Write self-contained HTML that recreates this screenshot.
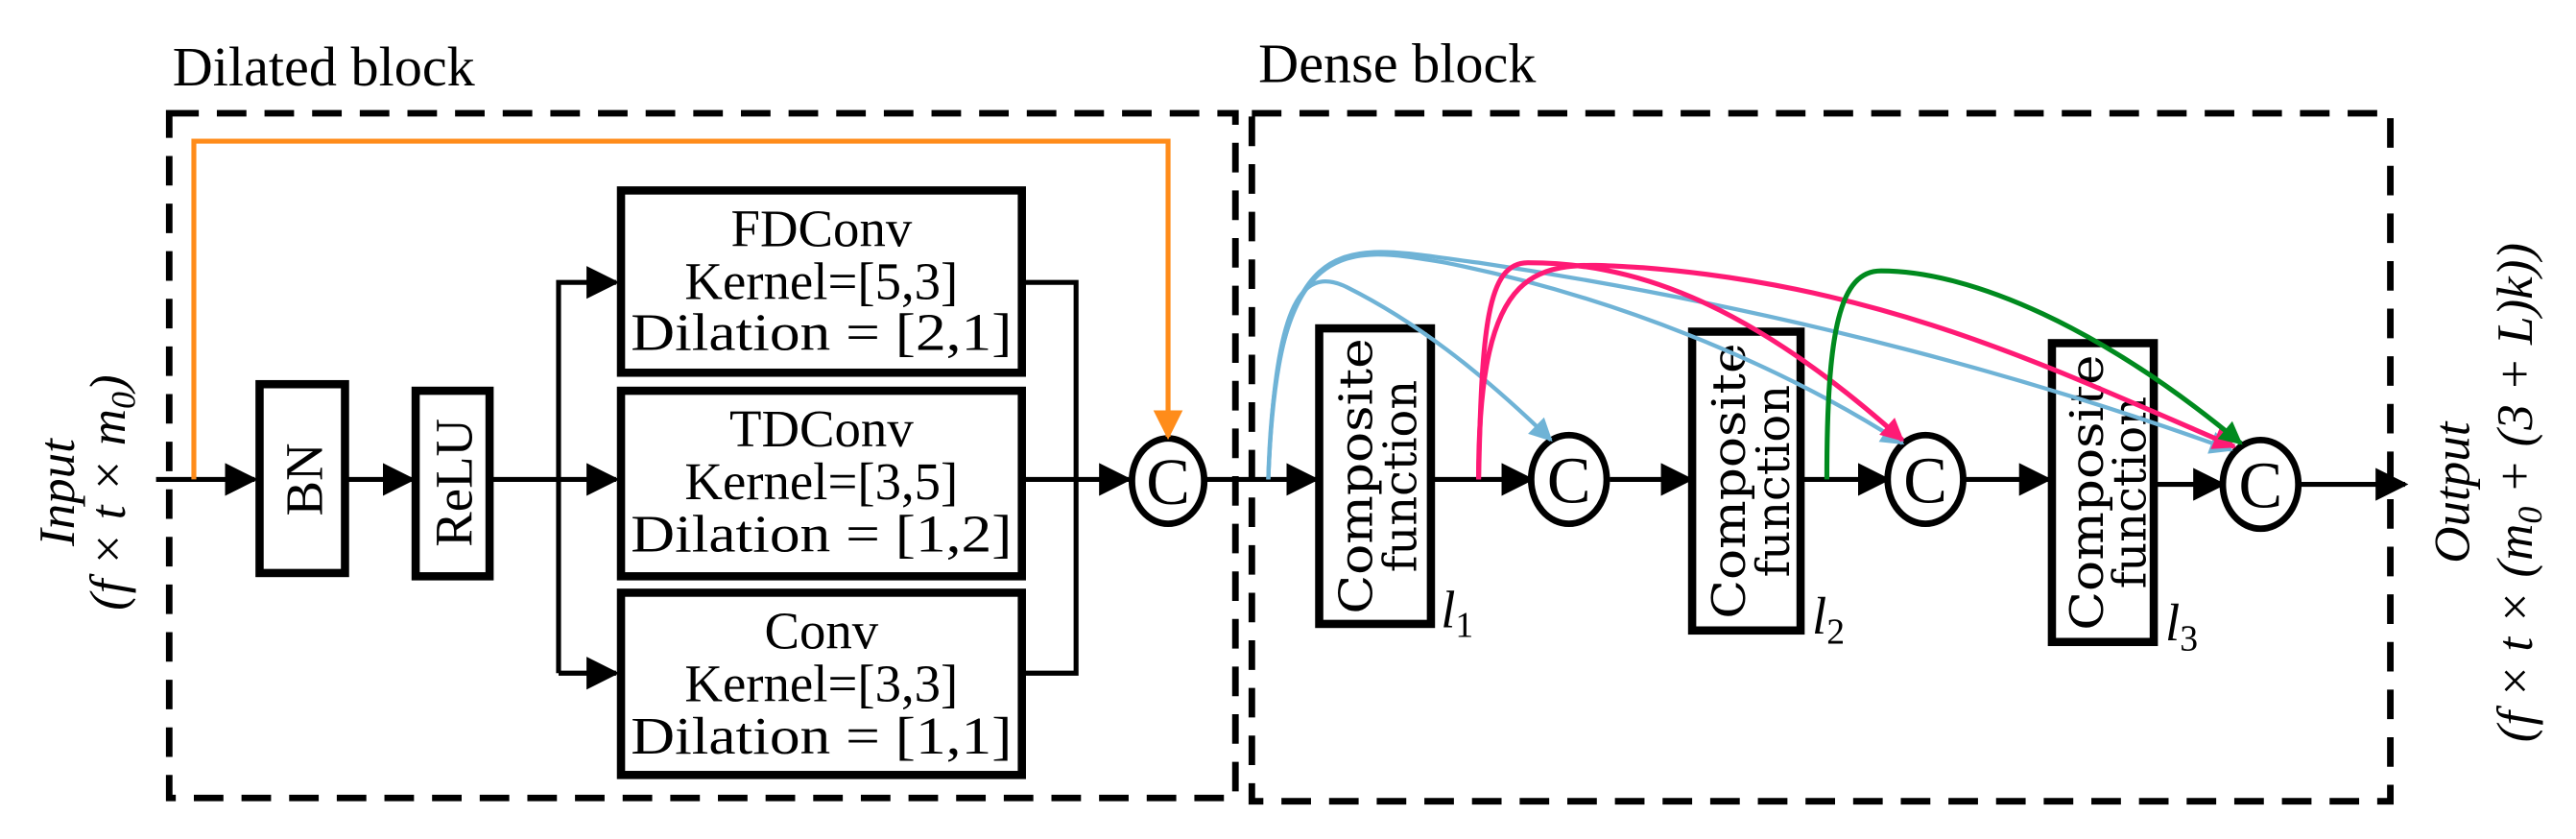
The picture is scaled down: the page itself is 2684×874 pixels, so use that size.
<!DOCTYPE html>
<html><head><meta charset="utf-8"><style>
html,body{margin:0;padding:0;background:#fff;}
svg{display:block;}
</style></head><body>
<svg width="2684" height="874" viewBox="0 0 1568 511" preserveAspectRatio="none" xmlns="http://www.w3.org/2000/svg">
<defs>
<marker id="ab" viewBox="0 0 10 10" refX="9" refY="5" markerWidth="20" markerHeight="20" markerUnits="userSpaceOnUse" orient="auto"><path d="M0,0 L10,5 L0,10 z" fill="#000"/></marker>
<marker id="ao" viewBox="0 0 10 10" refX="9" refY="5" markerWidth="18" markerHeight="18" markerUnits="userSpaceOnUse" orient="auto"><path d="M0,0 L10,5 L0,10 z" fill="#ff8c1a"/></marker>
<marker id="abl" viewBox="0 0 10 10" refX="9" refY="5" markerWidth="18" markerHeight="14" markerUnits="userSpaceOnUse" orient="auto"><path d="M0,0 L10,5 L0,10 z" fill="#6fb3d6"/></marker>
<marker id="ap" viewBox="0 0 10 10" refX="9" refY="5" markerWidth="18" markerHeight="14" markerUnits="userSpaceOnUse" orient="auto"><path d="M0,0 L10,5 L0,10 z" fill="#ff1a75"/></marker>
<marker id="ag" viewBox="0 0 10 10" refX="9" refY="5" markerWidth="18" markerHeight="14" markerUnits="userSpaceOnUse" orient="auto"><path d="M0,0 L10,5 L0,10 z" fill="#008a1e"/></marker>
</defs>
<g font-family="Liberation Serif, serif" fill="#000">
<text x="105" y="52" font-size="34">Dilated block</text>
<text x="766" y="50" font-size="34">Dense block</text>
</g>
<rect x="103" y="69" width="649" height="417" fill="none" stroke="#000" stroke-width="4" stroke-dasharray="18,11"/>
<rect x="762" y="69" width="693" height="419" fill="none" stroke="#000" stroke-width="4" stroke-dasharray="18,11"/>
<g font-family="Liberation Serif, serif" font-style="italic" font-size="31">
<text transform="translate(45,300) rotate(-90)" text-anchor="middle">Input</text>
<text transform="translate(76,300) rotate(-90)" text-anchor="middle">(f × t × m<tspan font-size="21" dy="6">0</tspan><tspan dy="-6">)</tspan></text>
<text transform="translate(1503,300) rotate(-90)" text-anchor="middle">Output</text>
<text transform="translate(1541,300) rotate(-90)" text-anchor="middle">(f × t × (m<tspan font-size="21" dy="6">0</tspan><tspan dy="-6"> + (3 + L)k))</tspan></text>
</g>
<g stroke="#000" stroke-width="3" fill="none">
<line x1="95" y1="292" x2="155" y2="292" marker-end="url(#ab)"/>
<line x1="210" y1="292" x2="251" y2="292" marker-end="url(#ab)"/>
<line x1="298" y1="292" x2="375" y2="292" marker-end="url(#ab)"/>
<polyline points="340,410 340,172 375,172" marker-end="url(#ab)"/>
<polyline points="340,410 375,410" marker-end="url(#ab)"/>
<polyline points="622,172 655,172 655,410 622,410"/>
<line x1="622" y1="292" x2="687" y2="292" marker-end="url(#ab)"/>
<line x1="734" y1="292" x2="801" y2="292" marker-end="url(#ab)"/>
<line x1="873" y1="292" x2="932" y2="292" marker-end="url(#ab)"/>
<line x1="980" y1="292" x2="1029" y2="292" marker-end="url(#ab)"/>
<line x1="1095" y1="292" x2="1149" y2="292" marker-end="url(#ab)"/>
<line x1="1196" y1="292" x2="1247" y2="292" marker-end="url(#ab)"/>
<line x1="1310" y1="295" x2="1353" y2="295" marker-end="url(#ab)"/>
<line x1="1400" y1="295" x2="1464" y2="295" marker-end="url(#ab)"/>
</g>
<g stroke="#000" stroke-width="5" fill="#fff">
<rect x="158" y="234" width="52" height="115"/>
<rect x="253" y="238" width="45" height="113"/>
<rect x="378" y="116" width="244" height="111"/>
<rect x="378" y="238" width="244" height="113"/>
<rect x="378" y="361" width="244" height="111"/>
<rect x="803" y="200" width="68" height="180"/>
<rect x="1030" y="202" width="66" height="182"/>
<rect x="1249" y="209" width="62" height="182"/>
</g>
<g font-family="Liberation Serif, serif" font-size="32" text-anchor="middle" fill="#000">
<text transform="translate(196,292) rotate(-90)" text-anchor="middle">BN</text>
<text transform="translate(287,294) rotate(-90)" text-anchor="middle">ReLU</text>
<text x="500" y="150">FDConv</text><text x="500" y="182">Kernel=[5,3]</text><text x="500" y="213" textLength="232" lengthAdjust="spacingAndGlyphs">Dilation = [2,1]</text>
<text x="500" y="272">TDConv</text><text x="500" y="304">Kernel=[3,5]</text><text x="500" y="336" textLength="232" lengthAdjust="spacingAndGlyphs">Dilation = [1,2]</text>
<text x="500" y="395">Conv</text><text x="500" y="427">Kernel=[3,3]</text><text x="500" y="459" textLength="232" lengthAdjust="spacingAndGlyphs">Dilation = [1,1]</text>
<g font-family="DejaVu Serif, serif" font-size="28">
<text transform="translate(835,290) rotate(-90)" textLength="168" lengthAdjust="spacingAndGlyphs">Composite</text><text transform="translate(862,290) rotate(-90)">function</text>
<text transform="translate(1062,293) rotate(-90)" textLength="168" lengthAdjust="spacingAndGlyphs">Composite</text><text transform="translate(1089,293) rotate(-90)">function</text>
<text transform="translate(1280,300) rotate(-90)" textLength="168" lengthAdjust="spacingAndGlyphs">Composite</text><text transform="translate(1306,300) rotate(-90)">function</text>
</g>
</g>
<g font-family="Liberation Serif, serif" font-style="italic" font-size="32" fill="#000">
<text x="877" y="382">l<tspan font-style="normal" font-size="22" dy="6">1</tspan></text>
<text x="1103" y="386">l<tspan font-style="normal" font-size="22" dy="6">2</tspan></text>
<text x="1318" y="390">l<tspan font-style="normal" font-size="22" dy="6">3</tspan></text>
</g>
<g stroke="#000" stroke-width="4" fill="#fff">
<ellipse cx="711" cy="293" rx="22" ry="26"/>
<ellipse cx="955" cy="292" rx="23" ry="27"/>
<ellipse cx="1172" cy="292" rx="23" ry="27"/>
<ellipse cx="1376" cy="295" rx="23" ry="27"/>
</g>
<g font-family="Liberation Serif, serif" font-size="40" text-anchor="middle" fill="#000">
<text x="711" y="307">C</text><text x="955" y="306">C</text><text x="1172" y="306">C</text><text x="1376" y="309">C</text>
</g>
<polyline points="118,292 118,86 711,86 711,266" fill="none" stroke="#ff8c1a" stroke-width="3" marker-end="url(#ao)"/>
<g fill="none" stroke-width="2.5">
<path d="M772,292 C776,190 790,160 820,175 C860,195 900,225 944,268" stroke="#6fb3d6" marker-end="url(#abl)"/>
<path d="M772,292 C776,140 820,150 880,160 C980,180 1080,220 1158,270" stroke="#6fb3d6" marker-end="url(#abl)"/>
<path d="M772,292 C778,130 820,150 900,160 C1100,190 1250,235 1358,274" stroke="#6fb3d6" marker-end="url(#abl)"/>
<path d="M900,292 C902,200 905,160 930,160 C990,160 1060,180 1158,268" stroke="#ff1a75" stroke-width="3" marker-end="url(#ap)"/>
<path d="M900,292 C900,150 940,160 1000,163 C1150,175 1250,225 1360,272" stroke="#ff1a75" stroke-width="3" marker-end="url(#ap)"/>
<path d="M1112,292 C1112,200 1120,165 1145,165 C1200,165 1280,200 1364,270" stroke="#008a1e" stroke-width="3" marker-end="url(#ag)"/>
</g>
</svg>
</body></html>
